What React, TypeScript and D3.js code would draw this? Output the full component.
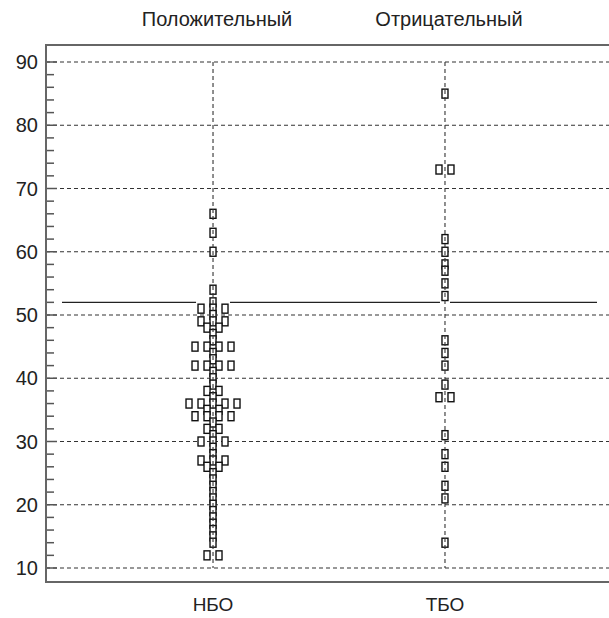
import { useEffect, useRef } from "react"
import * as d3 from "d3"

// categories and labels
const groups = ["НБО", "ТБО"]
const topLabels = ["Положительный", "Отрицательный"]
const yTicks = [10, 20, 30, 40, 50, 60, 70, 80, 90]
const minorTicks = [12, 14, 16, 18, 22, 24, 26, 28, 32, 34, 36, 38, 42, 44, 46, 48, 52, 54, 56, 58, 62, 64, 66, 68, 72, 74, 76, 78, 82, 84, 86, 88]
const cutoff = 52

// values (duplicates = points side by side)
const nboValues = [
  66, 63, 60, 54, 52, 51, 51, 51, 50, 49, 49, 49, 48, 48, 47, 46, 45, 45, 45, 45, 44, 43,
  42, 42, 42, 42, 41, 40, 39, 38, 38, 37, 36, 36, 36, 36, 36, 35, 35, 34, 34, 34, 34, 33,
  32, 32, 31, 30, 30, 30, 29, 28, 27, 27, 27, 26, 26, 25, 24, 23, 22, 21, 20, 19, 18, 17,
  16, 15, 14, 12, 12,
]
const tboValues = [85, 73, 73, 62, 60, 58, 57, 55, 53, 46, 44, 42, 39, 37, 37, 31, 28, 26, 23, 21, 14]

const W = 609
const H = 618
const font = "'Liberation Sans', Arial, sans-serif"

interface Pt {
  group: string
  value: number
  dx: number
}

// spread equal values symmetrically around the category line
function layout(values: number[], group: string): Pt[] {
  const counts = d3.rollup(values, (v) => v.length, (d) => d)
  const pts: Pt[] = []
  for (const [value, n] of counts) {
    for (let i = 0; i < n; i++) pts.push({ group, value, dx: (i - (n - 1) / 2) * 12 })
  }
  return pts
}

export default function App() {
  const svgRef = useRef<SVGSVGElement>(null)

  useEffect(() => {
    if (!svgRef.current) return
    const svg = d3.select(svgRef.current)
    svg.selectAll("*").remove()

    const left = 46
    const right = 612
    const top = 45
    const bottom = 582
    const mw = 6
    const mh = 9

    const x = d3.scalePoint<string>().domain(groups).range([left, right]).padding(0.72)
    const y = d3.scaleLinear().domain([10, 90]).range([568, 62])

    const points = [...layout(nboValues, groups[0]), ...layout(tboValues, groups[1])]

    // horizontal grid
    svg
      .append("g")
      .selectAll("line")
      .data(yTicks)
      .enter()
      .append("line")
      .attr("x1", left)
      .attr("x2", right)
      .attr("y1", (d) => y(d))
      .attr("y2", (d) => y(d))
      .attr("stroke", "#333")
      .attr("stroke-width", 1.1)
      .attr("stroke-dasharray", "4,3")

    // cutoff line, broken where the markers sit on it
    const gaps = groups
      .map((g) => {
        const near = points.filter((p) => p.group === g && Math.abs(p.value - cutoff) <= 1.5)
        const xs = near.map((p) => x(g)! + p.dx)
        return [d3.min(xs)! - mw / 2 - 2, d3.max(xs)! + mw / 2 + 2]
      })
      .sort((a, b) => a[0] - b[0])
    const segs: number[][] = []
    let start = left + 16
    gaps.forEach(([a, b]) => {
      segs.push([start, a])
      start = b
    })
    segs.push([start, W - 12])
    svg
      .append("g")
      .selectAll("line")
      .data(segs)
      .enter()
      .append("line")
      .attr("x1", (d) => d[0])
      .attr("x2", (d) => d[1])
      .attr("y1", y(cutoff))
      .attr("y2", y(cutoff))
      .attr("stroke", "#222")
      .attr("stroke-width", 1.2)

    // markers
    svg
      .append("g")
      .selectAll("rect")
      .data(points)
      .enter()
      .append("rect")
      .attr("x", (d) => x(d.group)! + d.dx - mw / 2)
      .attr("y", (d) => y(d.value) - mh / 2)
      .attr("width", mw)
      .attr("height", mh)
      .attr("fill", "#fff")
      .attr("stroke", "#111")
      .attr("stroke-width", 1.4)

    // vertical dashed category lines
    svg
      .append("g")
      .selectAll("line")
      .data(groups)
      .enter()
      .append("line")
      .attr("x1", (d) => x(d)!)
      .attr("x2", (d) => x(d)!)
      .attr("y1", y(90))
      .attr("y2", y(10))
      .attr("stroke", "#333")
      .attr("stroke-width", 1.1)
      .attr("stroke-dasharray", "4,3")

    // ticks
    svg
      .append("g")
      .selectAll("line")
      .data(yTicks)
      .enter()
      .append("line")
      .attr("x1", left)
      .attr("x2", left + 11)
      .attr("y1", (d) => y(d))
      .attr("y2", (d) => y(d))
      .attr("stroke", "#555")
      .attr("stroke-width", 1.5)
    svg
      .append("g")
      .selectAll("line")
      .data(minorTicks)
      .enter()
      .append("line")
      .attr("x1", left)
      .attr("x2", left + 8)
      .attr("y1", (d) => y(d))
      .attr("y2", (d) => y(d))
      .attr("stroke", "#555")
      .attr("stroke-width", 1.5)

    // frame
    svg
      .append("path")
      .attr("d", `M${right},${top}H${left}V${bottom}H${right}`)
      .attr("fill", "none")
      .attr("stroke", "#666")
      .attr("stroke-width", 2)

    // tick labels
    svg
      .append("g")
      .selectAll("text")
      .data(yTicks)
      .enter()
      .append("text")
      .attr("x", left - 8)
      .attr("y", (d) => y(d))
      .attr("dy", "0.35em")
      .attr("text-anchor", "end")
      .attr("font-family", font)
      .attr("font-size", 20)
      .attr("fill", "#222")
      .text((d) => d)

    svg
      .append("g")
      .selectAll("text")
      .data(groups)
      .enter()
      .append("text")
      .attr("x", (d) => x(d)!)
      .attr("y", 604)
      .attr("dy", "0.35em")
      .attr("text-anchor", "middle")
      .attr("font-family", font)
      .attr("font-size", 19)
      .attr("fill", "#222")
      .text((d) => d)

    svg
      .append("g")
      .selectAll("text")
      .data(topLabels)
      .enter()
      .append("text")
      .attr("x", (_, i) => x(groups[i])! + 4)
      .attr("y", 19)
      .attr("dy", "0.35em")
      .attr("text-anchor", "middle")
      .attr("font-family", font)
      .attr("font-size", 20)
      .attr("fill", "#222")
      .text((d) => d)
  }, [])

  return <svg ref={svgRef} width={W} height={H} style={{ position: "absolute", left: 0, top: 0, background: "#fff" }} />
}
